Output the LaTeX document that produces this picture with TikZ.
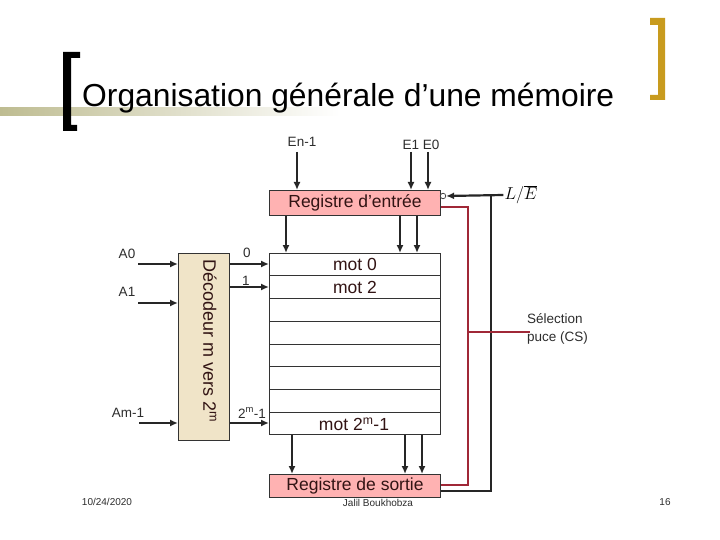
\documentclass[tikz,border=0pt]{standalone}
\usepackage{fontspec}
\setmainfont{Liberation Sans}
\usetikzlibrary{arrows.meta,calc}
\definecolor{goldb}{RGB}{200,155,30}
\definecolor{barc}{RGB}{190,188,145}
\definecolor{pinkreg}{RGB}{255,178,178}
\definecolor{beige}{RGB}{240,228,200}
\definecolor{redline}{RGB}{160,40,55}
\definecolor{lbl}{RGB}{45,45,45}
\definecolor{regtext}{RGB}{50,20,20}
\begin{document}
\begin{tikzpicture}[x=1pt,y=-1pt,
  arr/.style={line width=2.2pt, draw=black!85, -{Latex[length=8pt,width=7pt]}},
  box/.style={draw=black!80, line width=1pt, inner sep=0pt, anchor=north west},
  lab/.style={font=\fontsize{13.5}{18}\selectfont, text=lbl, inner sep=0pt},
  regtxt/.style={font=\fontsize{17.5}{20}\selectfont, text=regtext, inner sep=0pt},
  wire/.style={line width=1.3pt, draw=black!85},
  rwire/.style={line width=1.3pt, draw=redline}
]
\useasboundingbox (0,0) rectangle (720,540);
\fill[white] (0,0) rectangle (720,540);

% title decoration
\shade[left color=barc, right color=white] (0,108) rectangle (340,116);
\fill[black] (63,52) -- (80,52) -- (80,58) -- (71,58) -- (71,125) -- (77,125) -- (77,131) -- (63,131) -- cycle;
\fill[goldb] (650,18) -- (665,18) -- (665,100) -- (650,100) -- (650,95) -- (658,95) -- (658,25) -- (650,25) -- cycle;
\node[anchor=base west, inner sep=0pt, font=\fontsize{31.8}{36}\selectfont] (title) at (82,107) {Organisation générale d’une mémoire};

% boxes
\node[box, fill=pinkreg, minimum width=171pt, minimum height=25pt, font=\fontsize{17.5}{20}\selectfont, text=regtext] (regin) at (269,190) {Registre d’entrée};
\node[box, minimum width=171pt, minimum height=181pt] (mem) at (269,253) {};
\foreach \k in {1,...,7}
  \draw[black!80, line width=1pt] ($(mem.north west)!\k/8!(mem.south west)$) -- ($(mem.north east)!\k/8!(mem.south east)$);
\node[regtxt] (m0) at ($(mem.north)!0.5/8!(mem.south)$) {mot 0};
\node[regtxt] (m1) at ($(mem.north)!1.5/8!(mem.south)$) {mot 2};
\node[regtxt] (mlast) at (354,424) {mot 2\textsuperscript{m}-1};
\node[box, fill=pinkreg, minimum width=171pt, minimum height=23pt, font=\fontsize{17.5}{20}\selectfont, text=regtext] (regout) at (269,474) {Registre de sortie};

\node[box, fill=beige, minimum width=51pt, minimum height=187pt] (dec) at (178,253) {};
\node[rotate=-90, anchor=west, inner sep=0pt, font=\fontsize{18}{20}\selectfont, text=regtext] (dectxt) at (210,259) {Décodeur m vers 2\textsuperscript{m}};

% input labels and arrows
\node[lab] (en) at (302,142) {En-1};
\node[lab] (e10) at (421,145) {E1 E0};
\coordinate (xen) at (297,152);
\coordinate (xe1) at (411,152);
\coordinate (xe0) at (428,152);
\draw[arr] (xen) -- (xen |- regin.north);
\draw[arr] (xe1) -- (xe1 |- regin.north);
\draw[arr] (xe0) -- (xe0 |- regin.north);

\foreach \x/\n in {286/a,400/b,417/c}{
  \coordinate (t\n) at (\x,0);
  \draw[arr] (regin.south -| t\n) -- (mem.north -| t\n);
}
\foreach \x/\n in {292/a,405/b,422/c}{
  \coordinate (u\n) at (\x,0);
  \draw[arr] (mem.south -| u\n) -- (regout.north -| u\n);
}

% decoder inputs
\node[lab] (a0) at (127,254) {A0};
\node[lab] (a1) at (127,292) {A1};
\node[lab] (am) at (128,413) {Am-1};
\coordinate (ia0) at (138,264);
\coordinate (ia1) at (138,303);
\coordinate (iam) at (139,423);
\draw[arr] (ia0) -- (ia0 -| dec.west);
\draw[arr] (ia1) -- (ia1 -| dec.west);
\draw[arr] (iam) -- (iam -| dec.west);

% decoder outputs
\node[lab] (o0) at (247,253) {0};
\node[lab] (o1) at (246,281) {1};
\node[lab] (om) at (252,413) {2\textsuperscript{m}-1};
\coordinate (y0) at (0,264);
\coordinate (y1) at (0,287);
\coordinate (ym) at (0,423);
\draw[arr] (dec.east |- y0) -- (mem.west |- y0);
\draw[arr] (dec.east |- y1) -- (mem.west |- y1);
\draw[arr] (dec.east |- ym) -- (mem.west |- ym);

% L/E control
\node[circle, draw=black!80, line width=0.7pt, fill=white, minimum size=5.5pt, inner sep=0pt] (bub) at (443,196) {};
\node[inner sep=1pt, font=\fontsize{17}{20}\selectfont] (le) at (521,195) {$L/\overline{E}$};
\draw[arr] (le.west) -- (bub.east);
\coordinate (jk) at (491,196);
\coordinate (jb) at (491,491);
\draw[wire] (jk) -- (jb) -- (jb -| regout.east);

% chip select
\coordinate (r1) at (468,207);
\coordinate (r2) at (468,485);
\coordinate (rc) at (468,332);
\coordinate (rs) at (530,332);
\draw[rwire] (r1 -| regin.east) -- (r1) -- (r2) -- (r2 -| regout.east);
\draw[rwire] (rc) -- (rs);
\node[lab, anchor=north west, align=left] (cs) at (527,313) {Sélection\\puce (CS)};

% footer
\node[font=\fontsize{10}{12}\selectfont, text=lbl] (date) at (107,502) {10/24/2020};
\node[anchor=north, inner sep=0pt, font=\fontsize{10}{12}\selectfont, text=lbl] (auth) at (378,499) {Jalil Boukhobza};
\node[font=\fontsize{10}{12}\selectfont, text=lbl] (page) at (665,502) {16};
\end{tikzpicture}
\end{document}
